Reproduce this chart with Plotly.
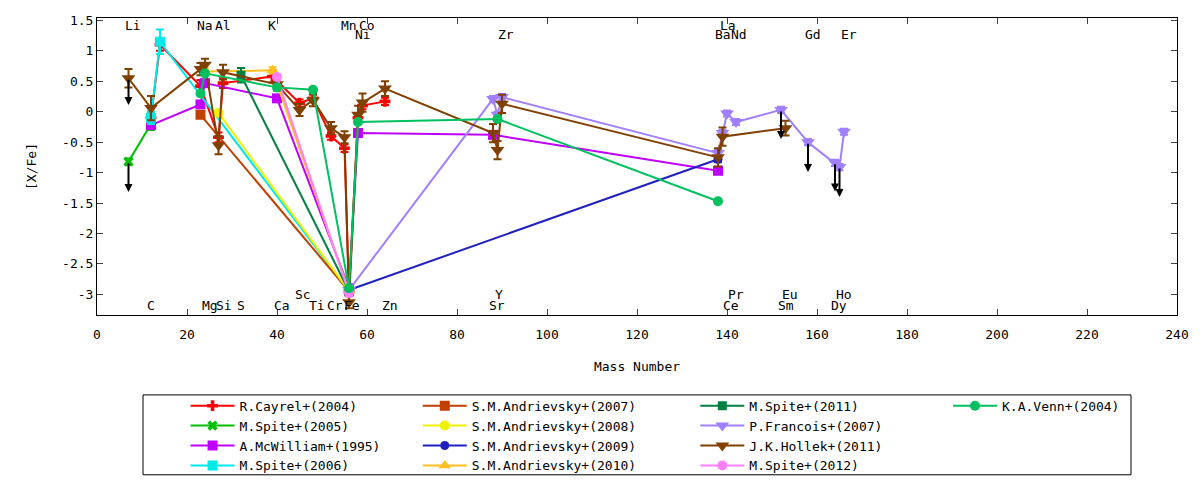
import plotly.graph_objects as go

# ---------------- data (mass number, [X/Fe], error) ----------------
cayrel_x = [12, 14, 23, 27, 28, 39, 45, 48, 52, 55, 56, 58, 59, 64]
cayrel_y = [-0.10, 1.10, 0.42, -0.42, 0.47, 0.58, 0.14, 0.22, -0.40, -0.60, -2.95, -0.10, 0.10, 0.17]
cayrel_e = [0.10, 0.10, 0.10, 0.08, 0.08, 0.10, 0.06, 0.06, 0.06, 0.06, 0.05, 0.06, 0.06, 0.06]

spite05_x = [7, 12]
spite05_y = [-0.82, -0.20]
spite05_e = [0.05, 0.10]

mcw_x = [12, 23, 24, 40, 56, 58, 88, 138]
mcw_y = [-0.22, 0.12, 0.47, 0.22, -2.90, -0.35, -0.38, -0.97]
mcw_e = [0.05, 0.05, 0.05, 0.05, 0.05, 0.05, 0.05, 0.05]

spite06_x = [12, 14, 56]
spite06_y = [-0.10, 1.15, -2.95]
spite06_e = [0.10, 0.20, 0.05]

andr07_x = [23, 56]
andr07_y = [-0.05, -2.95]
andr07_e = [0.05, 0.05]

andr08_x = [27, 56]
andr08_y = [-0.02, -2.95]
andr08_e = [0.05, 0.05]

andr09_x = [56, 138]
andr09_y = [-2.93, -0.78]
andr09_e = [0.05, 0.05]

andr10_x = [24, 39, 56]
andr10_y = [0.66, 0.68, -2.95]
andr10_e = [0.05, 0.05, 0.05]

spite11_x = [32, 56]
spite11_y = [0.60, -2.95]
spite11_e = [0.12, 0.05]

franc_x = [56, 88, 89, 90, 138, 139, 140, 142, 152, 158, 164, 165, 166]
franc_y = [-2.93, 0.21, -0.05, 0.24, -0.68, -0.35, -0.03, -0.17, 0.03, -0.50, -0.84, -0.91, -0.33]
franc_e = [0.05, 0.05, 0.05, 0.05, 0.05, 0.05, 0.05, 0.05, 0.05, 0.05, 0.05, 0.05, 0.05]

hollek_x = [7, 12, 23, 24, 27, 28, 40, 45, 48, 52, 55, 56, 58, 59, 64, 88, 89, 90, 138, 139, 153]
hollek_y = [0.55, 0.06, 0.70, 0.77, -0.55, 0.65, 0.45, 0.03, 0.19, -0.27, -0.42, -3.13,
            -0.05, 0.15, 0.38, -0.35, -0.63, 0.13, -0.75, -0.41, -0.27]
hollek_e = [0.15, 0.20, 0.10, 0.10, 0.15, 0.12, 0.10, 0.10, 0.10, 0.10, 0.10, 0.10,
            0.15, 0.15, 0.12, 0.15, 0.15, 0.15, 0.15, 0.15, 0.12]

spite12_x = [40, 56]
spite12_y = [0.57, -2.98]
spite12_e = [0.05, 0.05]

venn_x = [23, 24, 40, 48, 56, 58, 89, 138]
venn_y = [0.30, 0.63, 0.40, 0.36, -2.90, -0.17, -0.12, -1.47]
venn_e = [0.03, 0.03, 0.03, 0.03, 0.03, 0.03, 0.03, 0.03]

# upper limits (downward arrows)
ul_x = [7, 7, 152, 158, 164, 165]
ul_from = [0.55, -0.82, 0.03, -0.50, -0.84, -0.91]
ul_to = [0.11, -1.32, -0.45, -0.99, -1.31, -1.40]

# element labels
lab_text = ["Li", "Na", "Al", "K", "Mn", "Co", "La",
            "Ni", "Zr", "Ba", "Nd", "Gd", "Er",
            "Sc", "Y", "Pr", "Eu", "Ho",
            "C", "Mg", "Si", "S", "Ca", "Ti", "Cr", "Fe", "Zn", "Sr", "Ce", "Sm", "Dy"]
lab_x = [7.9, 24.0, 27.9, 38.9, 56.1, 60.0, 140.2,
         59.0, 90.9, 139.0, 142.7, 159.0, 167.1,
         45.8, 89.3, 142.0, 154.0, 166.0,
         12.0, 25.1, 28.3, 32.0, 41.1, 48.9, 52.9, 56.7, 65.1, 88.9, 140.9, 153.1, 164.9]
lab_y = [1.42, 1.42, 1.42, 1.42, 1.42, 1.42, 1.42,
         1.27, 1.27, 1.27, 1.27, 1.27, 1.27,
         -3.00, -3.00, -3.00, -3.00, -3.00,
         -3.18, -3.18, -3.18, -3.18, -3.18, -3.18, -3.18, -3.18, -3.18, -3.18, -3.18, -3.18, -3.18]

x_ticks = [0, 20, 40, 60, 80, 100, 120, 140, 160, 180, 200, 220, 240]
y_ticks = [-3, -2.5, -2, -1.5, -1, -0.5, 0, 0.5, 1, 1.5]
y_tick_text = ["-3", "-2.5", "-2", "-1.5", "-1", "-0.5", "0", "0.5", "1", "1.5"]

FONT = "DejaVu Sans Mono"

series = [
    ("R.Cayrel+(2004)", cayrel_x, cayrel_y, cayrel_e, "#ff0000", "cross", 9, "legend"),
    ("M.Spite+(2005)", spite05_x, spite05_y, spite05_e, "#00c000", "x", 9, "legend"),
    ("A.McWilliam+(1995)", mcw_x, mcw_y, mcw_e, "#c000ff", "square", 10, "legend"),
    ("M.Spite+(2006)", spite06_x, spite06_y, spite06_e, "#00e8e8", "square", 10, "legend"),
    ("S.M.Andrievsky+(2007)", andr07_x, andr07_y, andr07_e, "#c04000", "square", 10, "legend2"),
    ("S.M.Andrievsky+(2008)", andr08_x, andr08_y, andr08_e, "#f0f000", "circle", 10, "legend2"),
    ("S.M.Andrievsky+(2009)", andr09_x, andr09_y, andr09_e, "#2020c0", "circle", 9, "legend2"),
    ("S.M.Andrievsky+(2010)", andr10_x, andr10_y, andr10_e, "#ffc020", "triangle-up", 11, "legend2"),
    ("M.Spite+(2011)", spite11_x, spite11_y, spite11_e, "#008040", "square", 9, "legend3"),
    ("P.Francois+(2007)", franc_x, franc_y, franc_e, "#a080ff", "triangle-down", 12, "legend3"),
    ("J.K.Hollek+(2011)", hollek_x, hollek_y, hollek_e, "#804000", "triangle-down", 12, "legend3"),
    ("M.Spite+(2012)", spite12_x, spite12_y, spite12_e, "#ff80ff", "circle", 10, "legend3"),
    ("K.A.Venn+(2004)", venn_x, venn_y, venn_e, "#00c060", "circle", 10, "legend4"),
]

fig = go.Figure()
for name, xs, ys, es, col, sym, sz, lg in series:
    fig.add_trace(go.Scatter(
        x=xs, y=ys, name=name, mode="lines+markers",
        line=dict(color=col, width=2),
        marker=dict(color=col, symbol=sym, size=sz, line=dict(width=0)),
        error_y=dict(type="data", array=es, visible=True, color=col, thickness=2, width=4),
        legend=lg, legendgroup=name, showlegend=True,
    ))

annotations = []
for t, lx, ly in zip(lab_text, lab_x, lab_y):
    annotations.append(dict(x=lx, y=ly, xref="x", yref="y", text=t, showarrow=False,
                            font=dict(family=FONT, size=13, color="black")))
for ax_, y0, y1 in zip(ul_x, ul_from, ul_to):
    annotations.append(dict(x=ax_, y=y1, ax=ax_, ay=y0, xref="x", yref="y",
                            axref="x", ayref="y", text="", showarrow=True,
                            arrowhead=2, arrowsize=0.8, arrowwidth=2, arrowcolor="black"))

leg_common = dict(font=dict(family=FONT, size=13, color="black"), bgcolor="rgba(0,0,0,0)",
                  borderwidth=0, yanchor="top", xanchor="left", tracegroupgap=0,
                  itemwidth=44, orientation="v")

fig.update_layout(
    width=1192, height=472,
    margin=dict(l=89, r=23, t=10, b=165, autoexpand=False),
    paper_bgcolor="white", plot_bgcolor="white",
    font=dict(family=FONT, size=13, color="black"),
    showlegend=True,
    legend=dict(x=0.082, y=-0.255, **leg_common),
    legend2=dict(x=0.297, y=-0.255, **leg_common),
    legend3=dict(x=0.554, y=-0.255, **leg_common),
    legend4=dict(x=0.788, y=-0.255, **leg_common),
    annotations=annotations,
    shapes=[dict(type="rect", xref="paper", yref="paper", x0=0.0426, x1=0.9574,
                 y0=-0.538, y1=-0.269, line=dict(color="black", width=1))],
    xaxis=dict(range=[0, 240], tickvals=x_ticks, ticks="inside", ticklen=6,
               showline=True, linecolor="black", linewidth=1, mirror="ticks",
               showgrid=False, zeroline=False, automargin=False, ticklabelstandoff=7,
               title=dict(text="Mass Number", standoff=21, font=dict(family=FONT, size=13)),
               tickfont=dict(family=FONT, size=13)),
    yaxis=dict(range=[-3.34, 1.54], tickvals=y_ticks, ticktext=y_tick_text, ticks="inside",
               ticklen=6, showline=True, linecolor="black", linewidth=1, mirror="ticks",
               showgrid=False, zeroline=False, automargin=False,
               title=dict(text="[X/Fe]", standoff=22, font=dict(family=FONT, size=13)),
               tickfont=dict(family=FONT, size=13)),
)

fig.write_html("out.html")
